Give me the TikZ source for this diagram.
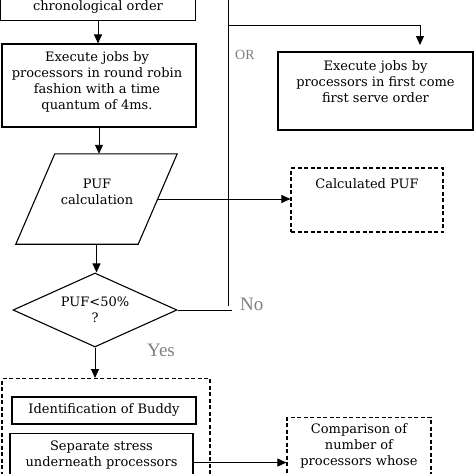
\documentclass[tikz,border=0pt]{standalone}
\usepackage{fontspec}
\setmainfont{DejaVu Serif}
\newfontfamily\labfont{Liberation Serif}
\usetikzlibrary{shapes.geometric,arrows.meta}

\tikzset{
  box/.style={draw, line width=1.1pt, rectangle, inner sep=0pt},
  dbox/.style={box, dash pattern=on 4pt off 2.5pt},
  flow/.style={line width=0.9pt, -{Triangle[length=9pt,width=8pt]}},
  txt/.style={align=center, inner sep=0pt, font=\fontsize{13}{16}\selectfont},
  lab/.style={text=gray, inner sep=0pt, font=\labfont\fontsize{19}{19}\selectfont}
}

\begin{document}
\begin{tikzpicture}[x=1pt,y=-1pt]
    \useasboundingbox (0,0) rectangle (474,474);
    \clip (0,0) rectangle (474,474);

    % left column
    \node[box, minimum width=195pt, minimum height=60pt, anchor=south] (chron) at (98,21) {};
    \node[txt, anchor=base] (chrontxt) at (98,10) {chronological order};
    \node[box, minimum width=194pt, minimum height=83pt] (exec) at (99,85.5) {};
    \node[txt] (exectxt) at (97,82) {Execute jobs by\\processors in round robin\\fashion with a time\\quantum of 4ms.};
    \node[minimum width=122pt, minimum height=90pt, inner sep=0pt] (puf) at (96.5,199) {};
    \draw[line width=1.1pt] ([xshift=19.5pt]puf.north west) -- ([xshift=19.5pt]puf.north east)
        -- ([xshift=-19.5pt]puf.south east) -- ([xshift=-19.5pt]puf.south west) -- cycle;
    \node[txt] (puftxt) at (97,192) {PUF\\calculation};
    \node[draw, line width=1.1pt, diamond, aspect=2.2, minimum width=164pt, minimum height=74pt, txt] (test) at (95,310) {PUF<50\%\\?};

    % right column
    \node[box, minimum width=195pt, minimum height=78pt] (fcfs) at (375.5,91) {};
    \node[txt] (fcfstxt) at (375.5,82) {Execute jobs by\\processors in first come\\first serve order};
    \node[dbox, minimum width=152pt, minimum height=64pt] (cpuf) at (367,200) {};
    \node[txt] (cpuftxt) at (367,184) {Calculated PUF};

    % buddy part
    \node[dbox, minimum width=208pt, minimum height=180pt, anchor=north] (grp) at (106,378) {};
    \node[box, txt, minimum width=184pt, minimum height=27pt] (buddy) at (104,410.5) {Identification of Buddy};
    \node[box, minimum width=183pt, minimum height=58pt, anchor=north] (sep) at (101.5,433) {};
    \node[txt, anchor=north] (septxt) at (101.5,441) {Separate stress\\underneath processors};
    \node[dbox, minimum width=144pt, minimum height=90pt, anchor=north] (cmp) at (359,417) {};
    \node[txt, anchor=north] (cmptxt) at (359,423) {Comparison of\\number of\\processors whose};

    % labels
    \node[lab, font=\labfont\fontsize{14}{14}\selectfont, anchor=west] (or) at (235,55) {OR};
    \node[lab, anchor=west] (no) at (240,304) {No};
    \node[lab, anchor=west] (yes) at (147,350) {Yes};

    % connectors
    \coordinate (orjoin) at (228,25);
    \coordinate (fcfsin) at (420,45);
    \draw[flow] (chron.south) -- (chron.south |- exec.north);
    \draw[flow] (exec.south) -- (exec.south |- puf.north);
    \draw[flow] (puf.south) -- (puf.south |- test.north);
    \draw[flow] (puf.east) -- (puf.east -| cpuf.west);
    \draw[line width=0.9pt] (test.east) -- ++(54pt,0);
    \draw[line width=0.9pt] (228,-5) -- (228,306);
    \draw[flow] (orjoin) -| (fcfsin);
    \draw[flow] (test.south) -- (test.south |- grp.north);
    \draw[flow] (sep.east) -- (cmp.west);
\end{tikzpicture}
\end{document}
